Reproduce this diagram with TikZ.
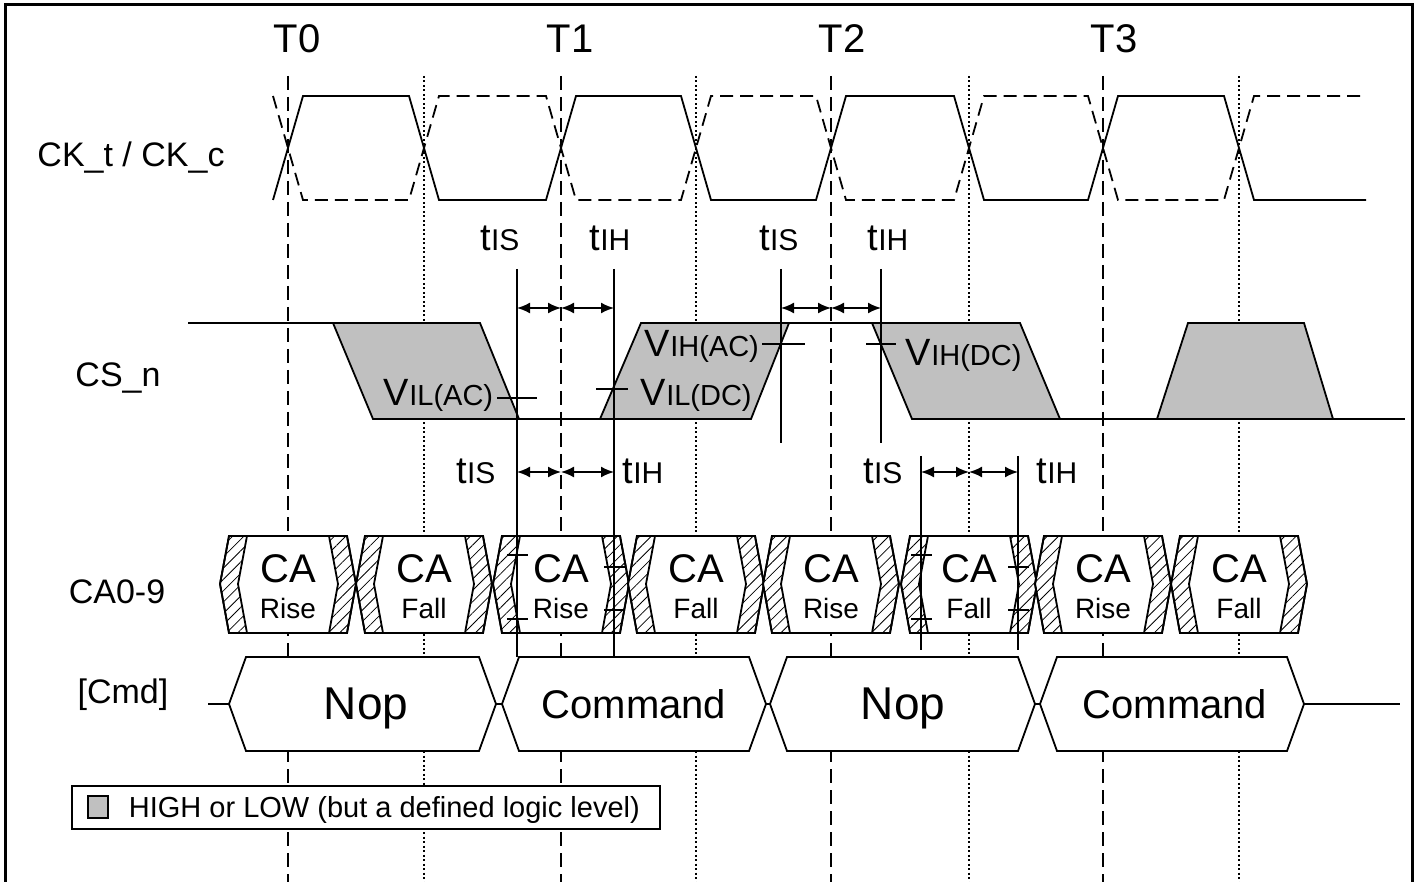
\documentclass[tikz,border=0pt]{standalone}
\usepackage{fontspec}
\setmainfont{Liberation Sans}
\usetikzlibrary{arrows.meta,patterns.meta}
\definecolor{lvl}{RGB}{192,192,192}
\newcommand\mysubT[1]{{\fontsize{38}{42}\selectfont t}{\fontsize{30}{34}\selectfont #1}}
\newcommand\mysubV[1]{{\fontsize{38}{42}\selectfont V}{\fontsize{29}{33}\selectfont #1}}
\begin{document}
\begin{tikzpicture}[x=1pt,y=-1pt,line width=1.8pt,line join=miter,
  refdash/.style={line width=1.5pt,dash pattern=on 14pt off 7pt},
  refdot/.style={line width=1.5pt,dash pattern=on 2pt off 2.5pt},
  ckc/.style={line width=1.8pt,dash pattern=on 13pt off 7pt},
  sig/.style={line width=1.8pt},
  lvlfill/.style={sig,fill=lvl},
  hatch/.style={pattern={Lines[angle=45,distance=8pt,line width=0.8pt]}},
  tline/.style={line width=1.6pt},
  dim/.style={line width=1.8pt,{Latex[length=13pt,width=11pt]}-{Latex[length=13pt,width=11pt]}},
  signame/.style={font=\fontsize{34}{40}\selectfont,inner sep=0pt,anchor=base},
  tname/.style={font=\fontsize{40}{46}\selectfont,inner sep=0pt,anchor=base},
  calbl/.style={font=\fontsize{40}{46}\selectfont,inner sep=0pt,anchor=base},
  rflbl/.style={font=\fontsize{28}{32}\selectfont,inner sep=0pt,anchor=base},
  timlbl/.style={inner sep=0pt,anchor=base},
  cmdbig/.style={font=\fontsize{46}{52}\selectfont,inner sep=0pt,anchor=base},
  cmdsmall/.style={font=\fontsize{40}{46}\selectfont,inner sep=0pt,anchor=base},
  lgtext/.style={font=\fontsize{29}{34}\selectfont,inner sep=0pt,anchor=base west}]
\useasboundingbox (0,0) rectangle (1417,882);
\clip (0,0) rectangle (1417,882);
% frame
\draw[line width=3pt] (5,900) -- (5,5) -- (1412,5) -- (1412,900);
% reference lines
\foreach \x in {288,561,831,1103} \draw[refdash] (\x,76) -- (\x,890);
\foreach \x in {424,696,969,1239} \draw[refdot] (\x,76) -- (\x,890);
% T labels
\node[tname] (t0) at (297,53) {T0};
\node[tname] (t1) at (570,53) {T1};
\node[tname] (t2) at (842,53) {T2};
\node[tname] (t3) at (1114,53) {T3};
% signal names
\node[signame] (nck) at (131,167) {CK\_t / CK\_c};
\node[signame] (ncs) at (118,387) {CS\_n};
\node[signame] (nca) at (117,603) {CA0-9};
\node[signame] (ncmd) at (123,703) {[Cmd]};
% clock
\draw[sig] (273,200) -- (303,96) -- (409,96) -- (439,200) -- (546,200) -- (576,96) -- (681,96) -- (711,200) -- (816,200) -- (846,96) -- (954,96) -- (984,200) -- (1088,200) -- (1118,96) -- (1224,96) -- (1254,200) -- (1366,200);
\draw[ckc] (273,96) -- (303,200) -- (409,200) -- (439,96) -- (546,96) -- (576,200) -- (681,200) -- (711,96) -- (816,96) -- (846,200) -- (954,200) -- (984,96) -- (1088,96) -- (1118,200) -- (1224,200) -- (1254,96) -- (1366,96);
% CS_n
\draw[sig] (188,323) -- (333,323);
\draw[lvlfill] (333,323) -- (480,323) -- (519,419) -- (373,419) -- cycle;
\draw[sig] (519,419) -- (600,419);
\draw[lvlfill] (600,419) -- (641,323) -- (789,323) -- (751,419) -- cycle;
\draw[sig] (789,323) -- (872,323);
\draw[lvlfill] (872,323) -- (1020,323) -- (1060,419) -- (912,419) -- cycle;
\draw[sig] (1060,419) -- (1157,419);
\draw[lvlfill] (1157,419) -- (1188,323) -- (1304,323) -- (1333,419) -- cycle;
\draw[sig] (1333,419) -- (1405,419);
% CA boxes
\foreach \c/\w [count=\i] in {288/Rise,424/Fall,561/Rise,696/Fall,831/Rise,969/Fall,1103/Rise,1239/Fall} {
  \draw[sig,fill=white] (\c-59,536) -- (\c+59,536) -- (\c+68,584) -- (\c+59,633) -- (\c-59,633) -- (\c-68,584) -- cycle;
  \fill[hatch] (\c-59,536) -- (\c-41,536) -- (\c-50,584) -- (\c-41,633) -- (\c-59,633) -- (\c-68,584) -- cycle;
  \fill[hatch] (\c+59,536) -- (\c+41,536) -- (\c+50,584) -- (\c+41,633) -- (\c+59,633) -- (\c+68,584) -- cycle;
  \draw[sig] (\c-59,536) -- (\c+59,536) -- (\c+68,584) -- (\c+59,633) -- (\c-59,633) -- (\c-68,584) -- cycle;
  \draw[sig] (\c-41,536) -- (\c-50,584) -- (\c-41,633);
  \draw[sig] (\c+41,536) -- (\c+50,584) -- (\c+41,633);
  \node[calbl] (ca\i) at (\c,582) {CA};
  \node[rflbl] (rf\i) at (\c,618) {\w};
}
% Cmd boxes
\draw[sig] (208,704) -- (229,704);
\draw[sig] (496,704) -- (502,704);
\draw[sig] (766,704) -- (770,704);
\draw[sig] (1035,704) -- (1040,704);
\draw[sig] (1304,704) -- (1400,704);
\foreach \a/\b [count=\i] in {229/496,502/766,770/1035,1040/1304} {
  \draw[sig,fill=white] (\a,704) -- (\a+17,657) -- (\b-17,657) -- (\b,704) -- (\b-17,751) -- (\a+17,751) -- cycle;
}
\node[cmdbig] (cmd1) at (366,719) {Nop};
\node[cmdsmall] (cmd2) at (634,718) {Command};
\node[cmdbig] (cmd3) at (903,719) {Nop};
\node[cmdsmall] (cmd4) at (1175,718) {Command};
% legend
\draw[line width=2pt,fill=white] (72,786) rectangle (660,829);
\draw[line width=1.6pt,fill=lvl] (88,796) rectangle (108,818);
\node[lgtext] (lg) at (128,817) {HIGH or LOW (but a defined logic level)};
% timing lines
\coordinate (a1t) at (517,269); \coordinate (a1b) at (517,657);
\coordinate (a2t) at (614,269); \coordinate (a2b) at (614,657);
\coordinate (b1t) at (781,269); \coordinate (b1b) at (781,443);
\coordinate (b2t) at (881,269); \coordinate (b2b) at (881,443);
\coordinate (c1t) at (921,456); \coordinate (c1b) at (921,650);
\coordinate (c2t) at (1018,456); \coordinate (c2b) at (1018,650);
\foreach \p in {a1,a2,b1,b2,c1,c2} \draw[tline] (\p t) -- (\p b);
% dimension arrows
\coordinate (d1) at (517,308); \coordinate (d2) at (561,308); \coordinate (d3) at (614,308);
\coordinate (e1) at (781,308); \coordinate (e2) at (831,308); \coordinate (e3) at (881,308);
\coordinate (f1) at (517,472); \coordinate (f2) at (561,472); \coordinate (f3) at (614,472);
\coordinate (g1) at (921,472); \coordinate (g2) at (969,472); \coordinate (g3) at (1018,472);
\foreach \p in {d,e,f,g} { \draw[dim] (\p1) -- (\p2); \draw[dim] (\p2) -- (\p3); }
% timing labels
\node[timlbl] (ts1) at (500,251) {\mysubT{IS}};
\node[timlbl] (th1) at (610,251) {\mysubT{IH}};
\node[timlbl] (ts2) at (779,251) {\mysubT{IS}};
\node[timlbl] (th2) at (888,251) {\mysubT{IH}};
\node[timlbl] (ts3) at (476,484) {\mysubT{IS}};
\node[timlbl] (th3) at (643,484) {\mysubT{IH}};
\node[timlbl] (ts4) at (883,484) {\mysubT{IS}};
\node[timlbl] (th4) at (1057,484) {\mysubT{IH}};
% thresholds
\draw[tline] (497,398) -- (537,398);
\draw[tline] (596,389) -- (628,389);
\draw[tline] (762,344) -- (805,344);
\draw[tline] (866,344) -- (896,344);
\node[inner sep=0pt,anchor=base east] (vilac) at (494,406) {\mysubV{IL(AC)}};
\node[inner sep=0pt,anchor=base west] (vildc) at (640,406) {\mysubV{IL(DC)}};
\node[inner sep=0pt,anchor=base west] (vihac) at (644,357) {\mysubV{IH(AC)}};
\node[inner sep=0pt,anchor=base west] (vihdc) at (905,366) {\mysubV{IH(DC)}};
% CA ticks
\foreach \l/\r in {517/614,921/1018} {
  \draw[tline] (\l-10,555) -- (\l+11,555);
  \draw[tline] (\l-10,619) -- (\l+11,619);
  \draw[tline] (\r-10,567) -- (\r+11,567);
  \draw[tline] (\r-10,610) -- (\r+11,610);
}
\end{tikzpicture}
\end{document}
